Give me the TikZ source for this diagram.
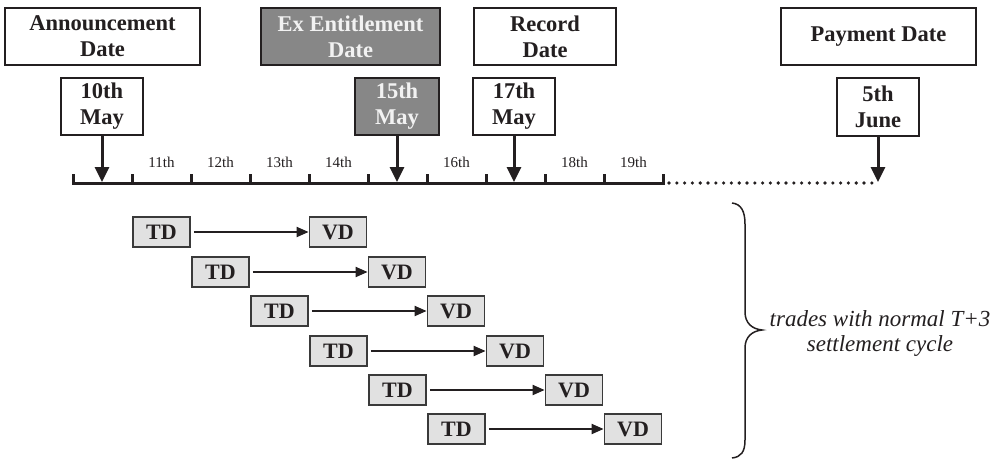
\documentclass[tikz,border=0pt]{standalone}
\usepackage{fontspec}
\setmainfont{Liberation Serif}
\newfontfamily\tnr{Liberation Serif}
\usetikzlibrary{arrows.meta}
\definecolor{ink}{HTML}{231F20}
\definecolor{exgray}{HTML}{878787}
\definecolor{tdfill}{HTML}{E1E1E1}
\definecolor{tdline}{HTML}{3A3A3A}
\begin{document}
\begin{tikzpicture}[x=1pt,y=-1pt,
  datebox/.style={draw=ink, line width=2pt, fill=white, text=ink,
    font=\tnr\fontsize{22.5}{26}\selectfont\bfseries, align=center,
    inner sep=0pt, minimum height=57pt},
  exbox/.style={datebox, fill=exgray, text=white!95!black},
  daylabel/.style={font=\tnr\fontsize{15}{18}\selectfont, text=ink, inner sep=0pt},
  tdbox/.style={draw=tdline, line width=1.8pt, fill=tdfill, text=ink,
    font=\tnr\fontsize{22}{26}\selectfont\bfseries, inner sep=0pt,
    minimum width=57pt, minimum height=30pt},
  bigarrow/.style={draw=ink, line width=3pt, -{Triangle[width=14pt,length=15pt]}},
  smallarrow/.style={draw=ink, line width=2pt, -{Triangle[width=10pt,length=12pt]}, shorten <=3pt},
  axis/.style={draw=ink, line width=3pt},
  note/.style={font=\tnr\fontsize{23}{25}\selectfont\itshape, text=ink, align=center, inner sep=0pt}
]
\useasboundingbox (0,0) rectangle (1002,460);

% top boxes
\node[datebox, minimum width=195pt] (ann) at (102.5,36.5) {Announcement\\Date};
\node[exbox, minimum width=179pt] (exd) at (350.5,36.5) {Ex Entitlement\\Date};
\node[datebox, minimum width=142pt] (rec) at (545,36.5) {Record\\Date};
\node[datebox, minimum width=195pt] (pay) at (878.5,36.5) {Payment Date};

% date boxes
\node[datebox, minimum width=82pt] (d10) at (102,106.5) {10th\\May};
\node[exbox, minimum width=84pt] (d15) at (397,106.5) {15th\\May};
\node[datebox, minimum width=82pt] (d17) at (514,106.5) {17th\\May};
\node[datebox, minimum width=82pt] (d5) at (878,107) {5th\\June};

% timeline
\coordinate (t0) at (73,183);
\coordinate (t10) at (663,183);
\coordinate (pend) at (878,183);
\draw[axis] (t0) -- (t10);
\foreach \k in {0,...,10} \draw[axis] (73+59*\k,174) -- (73+59*\k,184.5);
\draw[ink, line width=3.6pt, line cap=round, dash pattern=on 0pt off 7.8pt] ([xshift=6pt]t10) -- (pend);

\foreach \k/\t in {1/11th,2/12th,3/13th,4/14th,6/16th,8/18th,9/19th}
  \node[daylabel] (l\k) at (102.5+59*\k,162) {\t};

% arrows to the timeline
\coordinate (a10) at (102,182);
\coordinate (a15) at (397,182);
\coordinate (a17) at (514,182);
\coordinate (a5) at (878,182);
\draw[bigarrow] (d10) -- (a10);
\draw[bigarrow] (d15) -- (a15);
\draw[bigarrow] (d17) -- (a17);
\draw[bigarrow] (d5) -- (a5);

% trades
\foreach \i/\y in {0/232,1/272,2/311,3/351,4/390,5/429} {
  \node[tdbox] (td\i) at (161.5+59*\i,\y) {TD};
  \node[tdbox] (vd\i) at (338+59*\i,\y) {VD};
  \draw[smallarrow] (td\i) -- (vd\i);
}

% brace
\draw[ink, line width=1.5pt] (732,203) .. controls (741,204) and (745,211) .. (745,224)
  -- (745,312) .. controls (745,323) and (752,329) .. (762,330)
  .. controls (752,331) and (745,337) .. (745,348)
  -- (745,440) .. controls (745,452) and (741,457) .. (732,458);

\node[note] (txt) at (880,334) {trades with normal T+3\\settlement cycle};
\end{tikzpicture}
\end{document}
